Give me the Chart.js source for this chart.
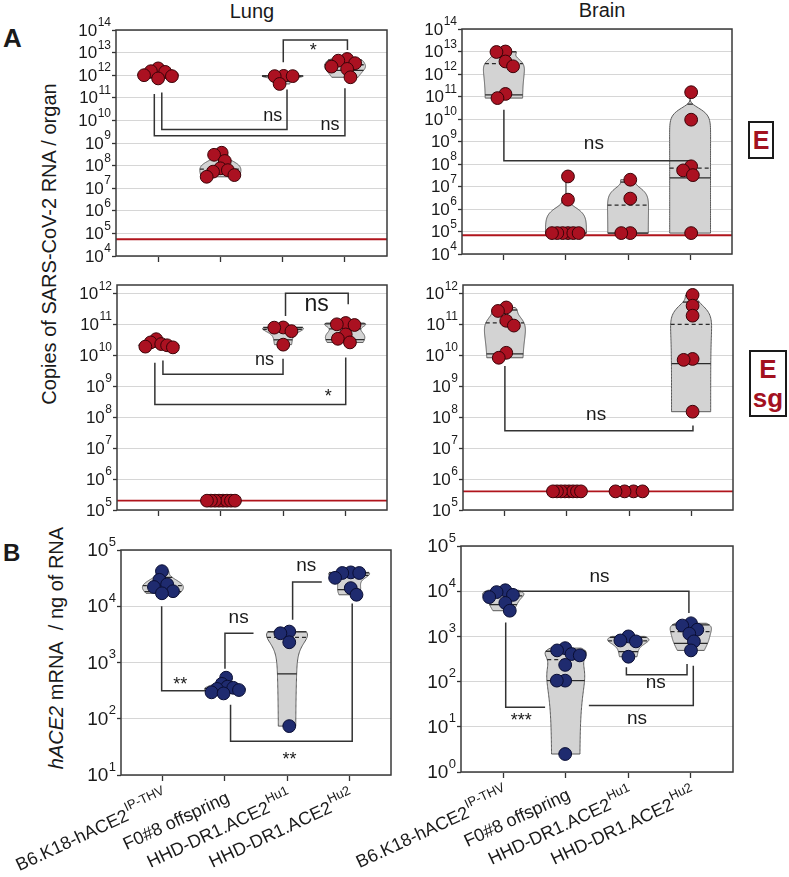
<!DOCTYPE html>
<html>
<head>
<meta charset="utf-8">
<script src="https://cdn.jsdelivr.net/npm/chart.js@4.4.1/dist/chart.umd.min.js"></script>
<style>
  body { margin: 0; background: #fff; width: 789px; height: 877px; position: relative; overflow: hidden;
         font-family: "Liberation Sans", Arial, Helvetica, sans-serif; color: #1a1a1a; }
  canvas { position: absolute; }
  .t { position: absolute; white-space: nowrap; line-height: 1; }
  .box { position: absolute; box-sizing: border-box; border: 2px solid #1a1a1a; color: #a3111f;
         font-weight: bold; text-align: center; }
</style>
</head>
<body>

<div class="t" style="left:252px; top:1px; font-size:20px; transform:translateX(-50%);">Lung</div>
<div class="t" style="left:602px; top:0px; font-size:20px; transform:translateX(-50%);">Brain</div>
<div class="t" style="left:3px; top:25px; font-size:26px; font-weight:bold;">A</div>
<div class="t" style="left:3px; top:541px; font-size:24px; font-weight:bold;">B</div>
<div class="t" style="left:49px; top:244px; font-size:20px; transform:translate(-50%,-50%) rotate(-90deg);">Copies of SARS-CoV-2 RNA / organ</div>
<div class="t" style="left:56px; top:648px; font-size:20px; transform:translate(-50%,-50%) rotate(-90deg);"><i>hACE2</i> mRNA&nbsp; / ng of RNA</div>
<div class="box" style="left:748px; top:121px; width:26px; height:38px; font-size:25px; line-height:34px;">E</div>
<div class="box" style="left:749px; top:350px; width:38px; height:67px; font-size:26px; line-height:29px; padding-top:3px;">E<br>sg</div>

<script>
// -------------------------
// DATA
// -------------------------
const categories = ["B6.K18-hACE2", "F0#8 offspring", "HHD-DR1.ACE2", "HHD-DR1.ACE2"];
const categorySup = ["IP-THV", "", "Hu1", "Hu2"];

// tick labels, as powers of ten
const expLungE = [4, 5, 6, 7, 8, 9, 10, 11, 12, 13, 14];
const expBrainE = [4, 5, 6, 7, 8, 9, 10, 11, 12, 13, 14];
const expSg = [5, 6, 7, 8, 9, 10, 11, 12];
const expLungB = [1, 2, 3, 4, 5];
const expBrainB = [0, 1, 2, 3, 4, 5];

// one array per mouse group (same order as categories)
const lungE = [
    [9.1e11, 2.0e12, 1.0e12, 1.5e12, 7.2e11, 1.4e12],
    [3.0e8, 3.7e8, 1.6e8, 7.6e7, 3.8e7, 5.4e7, 6.3e7, 3.2e7],
    [4.1e11, 9.1e11, 9.3e11, 9.1e11],
    [5.2e12, 3.4e12, 2.4e12, 1.9e12, 4.4e12, 8.1e11]
];
const brainE = [
    [9.5e12, 1.0e13, 3.6e12, 2.2e12, 8.5e10, 1.3e11],
    [2.8e7, 2.6e6, 8.5e4, 8.5e4, 8.5e4, 8.5e4, 8.5e4, 8.5e4],
    [2.0e7, 2.9e6, 8.5e4, 8.5e4],
    [1.55e11, 9.3e9, 7.9e7, 3.2e7, 5.2e7, 8.5e4]
];
const lungSg = [
    [1.9e10, 3.3e10, 2.1e10, 2.6e10, 1.8e10, 2.3e10],
    [2e5, 2e5, 2e5, 2e5, 2e5, 2e5, 2e5, 2e5],
    [7.9e10, 6.0e10, 7.8e10, 2.2e10],
    [1.0e11, 1.1e11, 9.5e10, 4.7e10, 2.6e10, 3.4e10]
];
const brainSg = [
    [2.7e11, 3.5e11, 9.1e10, 1.3e11, 8.3e9, 1.2e10],
    [4e5, 4e5, 4e5, 4e5, 4e5, 4e5, 4e5, 4e5],
    [4e5, 4e5, 4e5, 4e5],
    [8.9e11, 4.0e11, 1.9e11, 7.6e9, 7.1e9, 1.5e8]
];
const lungHace2 = [
    [4.2e4, 2.95e4, 2.45e4, 2.2e4, 1.7e4, 1.85e4],
    [537, 417, 372, 324, 339, 282, 295, 355],
    [3548, 3311, 2290, 74],
    [3.2e4, 4.0e4, 3.9e4, 3.9e4, 2.1e4, 1.6e4]
];
const brainHace2 = [
    [7400, 9550, 10500, 8300, 5500, 3700],
    [550, 407, 490, 380, 234, 105, 105, 2.5],
    [1000, 776, 813, 355],
    [1740, 1950, 1150, 1410, 776, 490]
];

// detection limits
const lodLungE = 5.5e4;
const lodBrainE = 6.8e4;
const lodLungSg = 2e5;
const lodBrainSg = 4e5;

// significance brackets: path in (group, log10 value), label and its place
const bracketsLungE = [
    { pts: [[1.06, 11.23], [1.06, 9.60], [3.07, 9.60], [3.07, 11.37]], label: "ns", at: [2.84, 10.14], size: 18 },
    { pts: [[0.94, 11.17], [0.94, 9.32], [4.0, 9.32], [4.0, 11.42]], label: "ns", at: [3.76, 9.75], size: 18 },
    { pts: [[3.01, 12.57], [3.01, 13.56], [4.04, 13.56], [4.04, 13.12]], label: "*", at: [3.49, 13.26], size: 18 }
];
const bracketsBrainE = [
    { pts: [[1.0, 10.41], [1.0, 8.15], [4.02, 8.15], [4.02, 7.8]], label: "ns", at: [2.45, 8.83], size: 19 }
];
const bracketsLungSg = [
    { pts: [[1.065, 9.83], [1.065, 9.39], [3.0, 9.39], [3.0, 9.89]], label: "ns", at: [2.70, 9.79], size: 18 },
    { pts: [[0.935, 9.76], [0.935, 8.41], [4.01, 8.41], [4.01, 9.93]], label: "*", at: [3.73, 8.80], size: 18 },
    { pts: [[3.04, 11.27], [3.04, 12.0], [4.05, 12.0], [4.05, 11.65]], label: "ns", at: [3.54, 11.58], size: 23 }
];
const bracketsBrainSg = [
    { pts: [[1.0, 9.65], [1.0, 7.56], [4.03, 7.56], [4.03, 7.73]], label: "ns", at: [2.47, 8.02], size: 19 }
];
const bracketsLungB = [
    { pts: [[0.98, 4.0], [0.98, 2.50], [1.71, 2.50]], label: "**", at: [1.28, 2.68], size: 18 },
    { pts: [[2.0, 2.89], [2.0, 3.52], [2.46, 3.52]], label: "ns", at: [2.22, 3.77], size: 19 },
    { pts: [[3.09, 3.76], [3.09, 4.43], [3.56, 4.43]], label: "ns", at: [3.31, 4.69], size: 19 },
    { pts: [[2.09, 2.25], [2.09, 1.60], [4.05, 1.60], [4.05, 4.05]], label: "**", at: [3.04, 1.35], size: 18 }
];
const bracketsBrainB = [
    { pts: [[1.1, 4.0], [3.97, 4.0], [3.97, 3.52]], label: "ns", at: [2.54, 4.29], size: 19 },
    { pts: [[1.04, 3.31], [1.04, 1.43], [1.67, 1.43]], label: "***", at: [1.29, 1.22], size: 18 },
    { pts: [[2.97, 2.32], [2.97, 2.15], [3.94, 2.15], [3.94, 2.39]], label: "ns", at: [3.44, 1.95], size: 19 },
    { pts: [[2.37, 1.47], [4.04, 1.47], [4.04, 2.35]], label: "ns", at: [3.14, 1.15], size: 19 }
];

// -------------------------
// LOOK
// -------------------------
const FONT = '"Liberation Sans", Arial, Helvetica, sans-serif';
const X_MIN = 0.325, X_MAX = 4.675;
const TICK_Y = 4, TICK_X = 6;
const VIOLIN_HALF = 0.33;
const MIN_D = 9, MAX_HALF = 14;
const ROT = 25 * Math.PI / 180;
const RED = { fill: "#ab1121", edge: "#3a0308", lod: "#b0141c" };
const BLUE = { fill: "#1f2b6f", edge: "#0a0e33" };

const panels = [
    { canvas: [0, 0, 395, 270], area: [116, 30, 387, 256], yMin: 1e4, yMax: 1e14, exps: expLungE, data: lungE, lod: lodLungE, brackets: bracketsLungE, col: RED, tickFont: 17 },
    { canvas: [395, 0, 394, 270], area: [462, 29, 732, 254], yMin: 1e4, yMax: 1e14, exps: expBrainE, data: brainE, lod: lodBrainE, brackets: bracketsBrainE, col: RED, tickFont: 17 },
    { canvas: [0, 270, 395, 255], area: [117, 285, 387, 510], yMin: 1e5, yMax: Math.pow(10, 12.27), exps: expSg, data: lungSg, lod: lodLungSg, brackets: bracketsLungSg, col: RED, tickFont: 17 },
    { canvas: [395, 270, 394, 255], area: [463, 285, 733, 510], yMin: 1e5, yMax: Math.pow(10, 12.27), exps: expSg, data: brainSg, lod: lodBrainSg, brackets: bracketsBrainSg, col: RED, tickFont: 17 },
    { canvas: [0, 525, 400, 352], area: [121, 550, 391, 775], yMin: 1e1, yMax: 1e5, exps: expLungB, data: lungHace2, brackets: bracketsLungB, col: BLUE, tickFont: 19, xLabels: true },
    { canvas: [340, 525, 449, 352], area: [461, 546, 733, 772], yMin: 1, yMax: 1e5, exps: expBrainB, data: brainHace2, brackets: bracketsBrainB, col: BLUE, tickFont: 19, xLabels: true }
];

// -------------------------
// STATS (Prism-style percentiles, gaussian kde on the raw values)
// -------------------------
function percentile(sorted, p) {
    const n = sorted.length;
    const r = p * (n + 1);
    if (r <= 1) return sorted[0];
    if (r >= n) return sorted[n - 1];
    const k = Math.floor(r);
    return sorted[k - 1] + (r - k) * (sorted[k] - sorted[k - 1]);
}

function violinShape(vals) {
    const s = vals.slice().sort((a, b) => a - b);
    const n = s.length;
    const mean = s.reduce((a, v) => a + v, 0) / n;
    const sd = Math.sqrt(s.reduce((a, v) => a + (v - mean) ** 2, 0) / (n - 1));
    const q1 = percentile(s, 0.25), q3 = percentile(s, 0.75);
    let spread = Math.min(sd, (q3 - q1) / 1.34);
    if (!(spread > 0)) spread = sd;
    const h = 0.9 * spread * Math.pow(n, -0.2);
    const dens = x => s.reduce((a, v) => a + Math.exp(-0.5 * ((x - v) / h) ** 2), 0);
    const lo = Math.log10(s[0]), hi = Math.log10(s[n - 1]);
    const samples = [];
    for (let i = 0; i <= 80; i++) {
        const v = Math.pow(10, lo + (hi - lo) * i / 80);
        samples.push([v, dens(v)]);
    }
    const maxD = Math.max(...samples.map(q => q[1]));
    return {
        outline: samples.map(([v, d]) => [v, VIOLIN_HALF * d / maxD]),
        widthAt: v => VIOLIN_HALF * dens(v) / maxD,
        median: percentile(s, 0.5), q1, q3
    };
}

// -------------------------
// PLUGINS
// -------------------------
function violinPlugin(p) {
    return {
        id: "violins",
        beforeDatasetsDraw(chart) {
            const ctx = chart.ctx, xs = chart.scales.x, ys = chart.scales.y, a = chart.chartArea;
            ctx.save();
            ctx.beginPath();
            ctx.rect(a.left, a.top, a.right - a.left, a.bottom - a.top);
            ctx.clip();
            p.data.forEach((vals, gi) => {
                if (Math.max(...vals) === Math.min(...vals)) return;
                const c = gi + 1;
                const v = violinShape(vals);
                ctx.beginPath();
                v.outline.forEach(([val, w], i) => {
                    const x = xs.getPixelForValue(c + w), y = ys.getPixelForValue(val);
                    if (i === 0) ctx.moveTo(x, y); else ctx.lineTo(x, y);
                });
                v.outline.slice().reverse().forEach(([val, w]) => {
                    ctx.lineTo(xs.getPixelForValue(c - w), ys.getPixelForValue(val));
                });
                ctx.closePath();
                ctx.fillStyle = "#d3d3d3";
                ctx.fill();
                ctx.strokeStyle = "#5a5a5a";
                ctx.lineWidth = 1;
                ctx.stroke();

                const line = (val, dash) => {
                    const w = v.widthAt(val), y = ys.getPixelForValue(val);
                    ctx.setLineDash(dash);
                    ctx.beginPath();
                    ctx.moveTo(xs.getPixelForValue(c - w), y);
                    ctx.lineTo(xs.getPixelForValue(c + w), y);
                    ctx.strokeStyle = "#2a2a2a";
                    ctx.lineWidth = 1.3;
                    ctx.stroke();
                    ctx.setLineDash([]);
                };
                line(v.q1, []);
                line(v.q3, []);
                line(v.median, [4, 3]);
            });
            ctx.restore();
        }
    };
}

function decorPlugin(p) {
    return {
        id: "decor",
        afterDraw(chart) {
            const ctx = chart.ctx, xs = chart.scales.x, ys = chart.scales.y, a = chart.chartArea;
            ctx.save();

            // frame
            ctx.strokeStyle = "#3a3a3a";
            ctx.lineWidth = 1.5;
            ctx.strokeRect(a.left, a.top, a.right - a.left, a.bottom - a.top);

            // y tick labels 10^n
            ctx.fillStyle = "#1a1a1a";
            ctx.textBaseline = "middle";
            p.exps.forEach(e => {
                const y = ys.getPixelForValue(Math.pow(10, e));
                const f = p.tickFont, fs = Math.round(f * 0.68);
                const xr = a.left - TICK_Y - 1;
                ctx.font = fs + "px " + FONT;
                const ew = ctx.measureText(String(e)).width;
                ctx.textAlign = "left";
                ctx.fillText(String(e), xr - ew, y - f * 0.42);
                ctx.font = f + "px " + FONT;
                ctx.textAlign = "right";
                ctx.fillText("10", xr - ew - 0.5, y + 1);
            });

            // significance labels
            ctx.textAlign = "center";
            p.brackets.forEach(b => {
                const f = b.size;
                ctx.font = f + "px " + FONT;
                let y = ys.getPixelForValue(Math.pow(10, b.at[1]));
                y += b.label.startsWith("*") ? f * 0.24 : -f * 0.08;
                ctx.fillText(b.label, xs.getPixelForValue(b.at[0]), y);
            });

            // rotated group names
            if (p.xLabels) {
                categories.forEach((name, i) => {
                    const px = xs.getPixelForValue(i + 1);
                    const f = 18, fs = 13;
                    ctx.save();
                    ctx.translate(px + 4, a.bottom + TICK_X + 16);
                    ctx.rotate(-ROT);
                    ctx.textBaseline = "middle";
                    ctx.font = fs + "px " + FONT;
                    const sw = categorySup[i] ? ctx.measureText(categorySup[i]).width : 0;
                    if (sw) {
                        ctx.textAlign = "left";
                        ctx.fillText(categorySup[i], -sw, -f * 0.42);
                    }
                    ctx.font = f + "px " + FONT;
                    ctx.textAlign = "right";
                    ctx.fillText(name, -sw - 0.5, 0);
                    ctx.restore();
                });
            }
            ctx.restore();
        }
    };
}

// -------------------------
// CHARTS
// -------------------------
function buildChart(p) {
    const [cx, cy, cw, ch] = p.canvas;
    const [L, T, R, B] = p.area;
    const cv = document.createElement("canvas");
    cv.width = cw;
    cv.height = ch;
    cv.style.left = cx + "px";
    cv.style.top = cy + "px";
    cv.style.width = cw + "px";
    cv.style.height = ch + "px";
    document.body.appendChild(cv);

    const pts = [];
    p.data.forEach((vals, gi) => vals.forEach(v => pts.push({ x: gi + 1, y: v })));

    const datasets = [{
        data: pts,
        backgroundColor: p.col.fill,
        borderColor: p.col.edge,
        borderWidth: 1,
        pointRadius: 6.4,
        order: 0
    }];
    p.brackets.forEach(b => datasets.push({
        data: b.pts.map(([x, e]) => ({ x: x, y: Math.pow(10, e) })),
        showLine: true,
        borderColor: "#333",
        borderWidth: 1.5,
        pointRadius: 0,
        order: 1
    }));
    if (p.lod) {
        datasets.push({
            data: [{ x: X_MIN, y: p.lod }, { x: X_MAX, y: p.lod }],
            showLine: true,
            borderColor: RED.lod,
            borderWidth: 1.8,
            pointRadius: 0,
            order: 2
        });
    }

    return new Chart(cv, {
        type: "scatter",
        data: { datasets: datasets },
        options: {
            responsive: false,
            animation: false,
            events: [],
            layout: { padding: { left: L - cx - TICK_Y, top: T - cy, right: cx + cw - R, bottom: cy + ch - B - TICK_X } },
            plugins: { legend: { display: false }, tooltip: { enabled: false } },
            scales: {
                x: {
                    type: "linear", min: X_MIN, max: X_MAX,
                    afterBuildTicks: s => { s.ticks = [1, 2, 3, 4].map(v => ({ value: v })); },
                    afterFit: s => { s.height = TICK_X; },
                    ticks: { display: false },
                    grid: { drawOnChartArea: false, drawTicks: true, tickLength: TICK_X, tickColor: "#333", tickWidth: 1.3 },
                    border: { display: false }
                },
                y: {
                    type: "logarithmic", min: p.yMin, max: p.yMax,
                    afterBuildTicks: s => { s.ticks = p.exps.map(e => ({ value: Math.pow(10, e) })); },
                    afterFit: s => { s.width = TICK_Y; },
                    ticks: { display: false },
                    grid: { color: "#d6d6d6", lineWidth: 1, drawTicks: true, tickLength: TICK_Y, tickColor: "#333", tickWidth: 1.3 },
                    border: { display: false }
                }
            }
        },
        plugins: [violinPlugin(p), decorPlugin(p)]
    });
}

// spread overlapping points sideways (simple beeswarm in pixels)
function swarm(chart, p) {
    const xs = chart.scales.x, ys = chart.scales.y;
    const pxPerCat = xs.getPixelForValue(2) - xs.getPixelForValue(1);
    const out = [];
    p.data.forEach((vals, gi) => {
        const placed = [];
        vals.slice().sort((a, b) => b - a).forEach(v => {
            const y = ys.getPixelForValue(v);
            const cands = [0];
            placed.forEach(q => {
                const dy = y - q.y;
                if (Math.abs(dy) < MIN_D) {
                    const dx = Math.sqrt(MIN_D * MIN_D - dy * dy);
                    cands.push(q.x + dx, q.x - dx);
                }
            });
            const ok = c => placed.every(q => (c - q.x) ** 2 + (y - q.y) ** 2 >= MIN_D * MIN_D - 0.01);
            const left = placed.filter(q => q.x < 0).length, right = placed.filter(q => q.x > 0).length;
            const best = cands.filter(ok).sort((a, b) =>
                Math.abs(a) - Math.abs(b) || (left <= right ? a - b : b - a))[0];
            placed.push({ x: best, y: y, v: v });
        });
        const mean = placed.reduce((s, q) => s + q.x, 0) / placed.length;
        const maxAbs = Math.max(...placed.map(q => Math.abs(q.x - mean)));
        const k = maxAbs > MAX_HALF ? MAX_HALF / maxAbs : 1;
        placed.forEach(q => out.push({ x: gi + 1 + (q.x - mean) * k / pxPerCat, y: q.v }));
    });
    chart.data.datasets[0].data = out;
    chart.update("none");
}

panels.forEach(p => {
    const chart = buildChart(p);
    swarm(chart, p);
});
</script>
</body>
</html>
